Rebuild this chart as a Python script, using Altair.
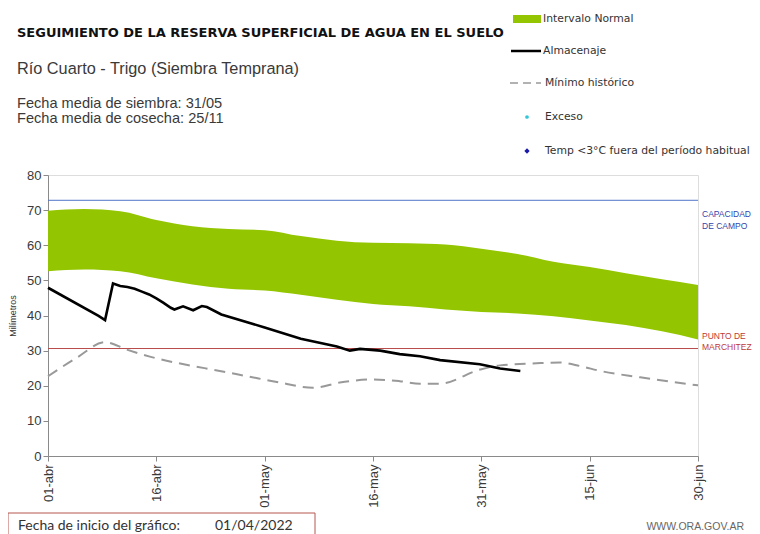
import altair as alt
import pandas as pd

# ---------------- data ----------------
# day offsets from 01-abr-2022
band_days = [0, 5, 10, 15, 20, 25, 30, 35, 40, 45, 50, 55, 60, 65, 70, 75, 80, 85, 90]
band_upper = [69.8, 70.3, 69.7, 67.2, 65.4, 64.6, 64.3, 62.6, 61.3, 60.7, 60.6, 60.2,
              59.0, 57.5, 55.3, 53.8, 52.0, 50.3, 48.7]
band_lower = [52.6, 53.1, 52.6, 50.6, 48.8, 47.6, 47.1, 45.9, 44.5, 43.3, 42.6, 41.7,
              41.0, 40.6, 39.8, 38.6, 37.3, 35.5, 33.2]

alm_days = [0, 7, 7.9, 9, 10, 11, 12, 13, 14, 15, 16, 17, 17.5, 18.7, 20.1, 21.3, 22,
            24, 30, 35, 40, 41.8, 43.2, 46, 48.7, 51.5, 54.3, 59.8, 62.6, 65.4]
alm_vals = [47.9, 39.9, 38.7, 49.1, 48.4, 48.1, 47.6, 46.8, 46.0, 44.9, 43.6, 42.2, 41.7,
            42.6, 41.5, 42.7, 42.4, 40.3, 36.6, 33.4, 31.2, 30.0, 30.5, 30.0, 29.0, 28.4,
            27.3, 26.1, 24.9, 24.2]

min_days = [0, 4, 7.9, 10.9, 14.1, 20.1, 22.8, 27.6, 32.1, 36.7, 40.4, 45, 48.7, 51.5,
            54.3, 59.8, 62.6, 69.1, 70.9, 73.7, 76.5, 82, 90]
min_vals = [22.7, 28.0, 32.4, 30.3, 28.3, 25.6, 24.6, 22.7, 20.9, 19.4, 20.9, 21.8, 21.3,
            20.6, 20.6, 24.6, 25.8, 26.5, 26.6, 25.6, 24.2, 22.4, 20.1]

capacidad_campo = 72.8
punto_marchitez = 30.6

y_ticks = [0, 10, 20, 30, 40, 50, 60, 70, 80]
tick_days = [0, 15, 30, 45, 60, 75, 90]
tick_labels = ["01-abr", "16-abr", "01-may", "16-may", "31-may", "15-jun", "30-jun"]

title_text = "SEGUIMIENTO DE LA RESERVA SUPERFICIAL DE AGUA EN EL SUELO"
sub1 = "Río Cuarto - Trigo (Siembra Temprana)"
sub2 = "Fecha media de siembra: 31/05"
sub3 = "Fecha media de cosecha: 25/11"
legend_labels = ["Intervalo Normal", "Almacenaje", "Mínimo histórico", "Exceso",
                 "Temp <3°C fuera del período habitual"]

# ---------------- styling ----------------
FONT = "Liberation Sans"
WIDE = "DejaVu Sans"
GREEN = "#93c600"
W, H = 650, 281
X0, Y0 = 48, 175  # page position of plot origin (for layout helpers)

band_df = pd.DataFrame({"d": band_days, "lo": band_lower, "hi": band_upper})
alm_df = pd.DataFrame({"d": alm_days, "v": alm_vals})
min_df = pd.DataFrame({"d": min_days, "v": min_vals})

label_expr = "[" + ",".join("'%s'" % t for t in tick_labels) + "][round(datum.value/15)]"

xscale = alt.Scale(domain=[0, 90], nice=False, zero=False)
yscale = alt.Scale(domain=[0, 80], nice=False)

xax = alt.Axis(values=tick_days, labelExpr=label_expr, labelAngle=270, title=None,
               grid=False, tickSize=5, labelFontSize=13, labelPadding=3,
               labelColor="#3a3a3a", domainColor="#8a8a8a", tickColor="#8a8a8a",
               labelFont=FONT, labelOverlap=False)
yax = alt.Axis(values=y_ticks, title="Milímetros", grid=False, tickSize=5,
               labelFontSize=13, labelColor="#3a3a3a", domainColor="#8a8a8a",
               tickColor="#8a8a8a", labelFont=FONT, titleFont=FONT, titleFontSize=9,
               titleFontWeight="normal", titleColor="#333333", titleX=-36, titleY=H / 2,
               titleAngle=270, titleAlign="center", titleBaseline="middle",
               labelOverlap=False, tickCount=9)


def X(f):
    return alt.X(f, scale=xscale, axis=xax)


def Y(f):
    return alt.Y(f, scale=yscale, axis=yax)


band = alt.Chart(band_df).mark_area(color=GREEN, opacity=1, interpolate="monotone").encode(
    x=X("d:Q"), y=Y("lo:Q"), y2="hi:Q",
)

cap = alt.Chart(pd.DataFrame({"v": [capacidad_campo]})).mark_rule(
    color="#4f74c9", strokeWidth=1).encode(y=Y("v:Q"))
pmp = alt.Chart(pd.DataFrame({"v": [punto_marchitez]})).mark_rule(
    color="#b84a4a", strokeWidth=1).encode(y=Y("v:Q"))

minh = alt.Chart(min_df).mark_line(color="#999999", strokeWidth=2,
                                   strokeDash=[11, 7], interpolate="monotone").encode(
    x=X("d:Q"), y=Y("v:Q"))
alm = alt.Chart(alm_df).mark_line(color="#000000", strokeWidth=2.6).encode(
    x=X("d:Q"), y=Y("v:Q"))


def txt(text, px, py, size=12, color="#333333", weight="normal", font=FONT, align="left"):
    return alt.Chart(pd.DataFrame({"t": [text]})).mark_text(
        align=align, baseline="middle", fontSize=size, color=color, fontWeight=weight,
        font=font).encode(x=alt.value(px - X0), y=alt.value(py - Y0), text="t:N")


texts = [
    txt(title_text, 17, 33, size=13, color="#111111", weight="bold", font=WIDE),
    txt(sub1, 17, 69, size=16.3, color="#3a3a3a"),
    txt(sub2, 17, 104, size=14.6, color="#3a3a3a"),
    txt(sub3, 17, 119, size=14.6, color="#3a3a3a"),
    txt("CAPACIDAD", 702, 214, size=8.5, color="#3344aa"),
    txt("DE  CAMPO", 702, 226, size=8.5, color="#3344aa"),
    txt("PUNTO  DE", 702, 336, size=8.5, color="#c03838"),
    txt("MARCHITEZ", 702, 347, size=8.5, color="#c03838"),
    txt("Fecha de inicio del gráfico:", 18, 526, size=14, color="#333333", font="Lato"),
    txt("01/04/2022", 215, 526, size=14, color="#333333", font="Lato"),
    txt("WWW.ORA.GOV.AR", 744, 527, size=10.5, color="#666666", align="right"),
]

# legend (manual, top right)
leg = []
leg.append(alt.Chart(pd.DataFrame({"a": [0]})).mark_rect(color=GREEN).encode(
    x=alt.value(513 - X0), x2=alt.value(541 - X0), y=alt.value(15 - Y0), y2=alt.value(23 - Y0)))
leg.append(alt.Chart(pd.DataFrame({"a": [0]})).mark_rule(color="#000000", strokeWidth=2.5).encode(
    x=alt.value(511 - X0), x2=alt.value(541 - X0), y=alt.value(51 - Y0)))
leg.append(alt.Chart(pd.DataFrame({"a": [0]})).mark_rule(color="#999999", strokeWidth=1.5,
                                                         strokeDash=[8, 5]).encode(
    x=alt.value(510 - X0), x2=alt.value(541 - X0), y=alt.value(83 - Y0)))
leg.append(alt.Chart(pd.DataFrame({"a": [0]})).mark_point(shape="circle", filled=True, size=14,
                                                          color="#33c6d6", opacity=1).encode(
    x=alt.value(527 - X0), y=alt.value(117 - Y0)))
leg.append(alt.Chart(pd.DataFrame({"a": [0]})).mark_point(shape="diamond", filled=True, size=28,
                                                          color="#1a1aa8", opacity=1).encode(
    x=alt.value(527 - X0), y=alt.value(151 - Y0)))
leg_y = [19, 51, 83, 117, 151]
leg_x = [543, 543, 545, 545, 545]
for lab, lx, ly in zip(legend_labels, leg_x, leg_y):
    leg.append(txt(lab, lx, ly, size=10.8, color="#333333", font=WIDE))

# bottom box
box = alt.Chart(pd.DataFrame({"a": [0]})).mark_rect(
    fill="white", stroke="#b5574f", strokeWidth=1).encode(
    x=alt.value(8 - X0), x2=alt.value(315 - X0), y=alt.value(513 - Y0), y2=alt.value(545 - Y0))

chart = alt.layer(band, cap, pmp, minh, alm, box, *texts, *leg).properties(
    width=W, height=H,
    autosize=alt.AutoSizeParams(type="none"),
    padding={"left": X0 - 8, "top": Y0 - 8, "right": 54, "bottom": 78},
).configure_view(stroke=None).configure(background="white")

chart.save("out.html", embed_options={"renderer": "svg", "actions": False})
